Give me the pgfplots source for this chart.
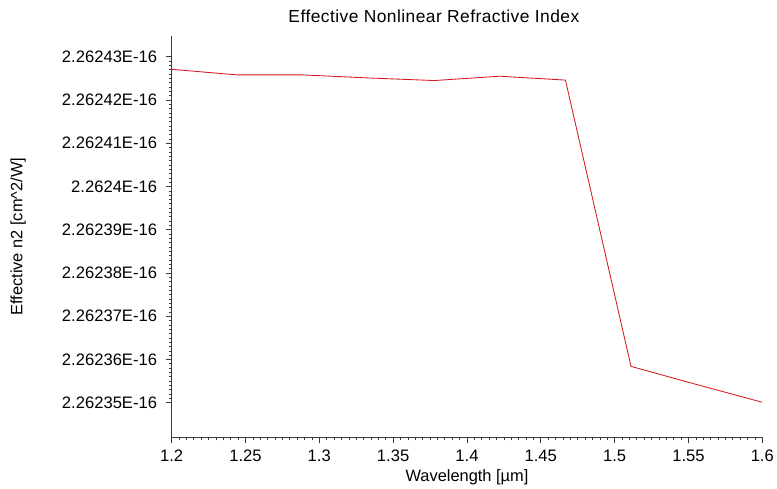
\documentclass[border=0pt]{standalone}
\usepackage{pgfplots}
\pgfplotsset{compat=1.18}
\usepackage{fontspec}
\setmainfont{Liberation Sans}
\definecolor{curvered}{RGB}{215,25,30}
\definecolor{axisgray}{RGB}{60,60,60}

% Effective n2 given as offset above 2.26230E-16 cm^2/W, in steps of 1E-21 cm^2/W
\begin{document}
\begin{tikzpicture}
\useasboundingbox (0,0) rectangle (777pt,488pt);
\begin{axis}[
  at={(171.6pt,50.7pt)}, anchor=south west,
  scale only axis,
  width=590.7pt, height=401.3pt,
  xmin=1.2, xmax=1.6,
  ymin=4.2, ymax=13.48,
  axis x line*=bottom, axis y line*=left,
  axis line style={axisgray, line width=0.8pt, -},
  xtick={1.2,1.25,...,1.6},
  xticklabels={1.2,1.25,1.3,1.35,1.4,1.45,1.5,1.55,1.6},
  ytick={5,6,...,13},
  yticklabels={2.26235E-16,2.26236E-16,2.26237E-16,2.26238E-16,2.26239E-16,2.2624E-16,2.26241E-16,2.26242E-16,2.26243E-16},
  minor x tick num=9, minor y tick num=9,
  tick align=outside,
  major tick length=6pt, minor tick length=3pt,
  tick style={axisgray, line width=0.6pt},
  ticklabel style={font=\fontsize{16.6}{18}\selectfont, text=black},
  xticklabel style={yshift=-3pt},
  yticklabel style={xshift=-5pt},
  xlabel={Wavelength [µm]},
  ylabel={Effective n2 [cm\^{}2/W]},
  label style={font=\fontsize{16.4}{18}\selectfont},
  xlabel style={at={(axis description cs:0.5,0)}, anchor=center, yshift=-40pt},
  ylabel style={at={(axis description cs:-0.260,0.5)}, anchor=center},
  title={Effective Nonlinear Refractive Index},
  title style={at={(axis description cs:0.444,1)}, anchor=center, yshift=14pt,
    font=\fontsize{17.4}{19}\selectfont\addfontfeature{LetterSpace=2.6}},
  clip=false,
]
\addplot[curvered, line width=0.85pt] coordinates {
  (1.2000,12.71)
  (1.2444,12.58)
  (1.2889,12.58)
  (1.3333,12.51)
  (1.3778,12.45)
  (1.4222,12.55)
  (1.4667,12.46)
  (1.5111,5.84)
  (1.5556,5.42)
  (1.6000,5.01)
};
\end{axis}
\end{tikzpicture}
\end{document}
